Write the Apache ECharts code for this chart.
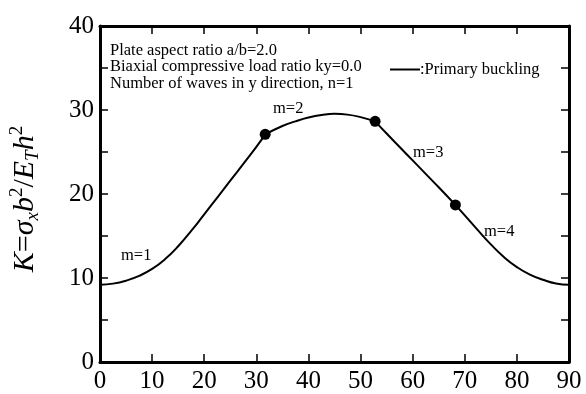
<!DOCTYPE html>
<html>
<head>
<meta charset="utf-8">
<script src="https://cdn.jsdelivr.net/npm/echarts@6/dist/echarts.min.js"></script>
<style>
html,body{margin:0;padding:0;background:#fff;}
#chart{width:586px;height:394px;}
</style>
</head>
<body>
<div id="chart"></div>
<script>
// ---- data ----
const m1Angle = [0, 2.5, 5, 7.5, 10, 12.5, 15, 17.5, 20, 22.5, 25, 27.5, 30, 31.7];
const m1K     = [9.2, 9.33, 9.68, 10.25, 11.08, 12.25, 13.78, 15.6, 17.58, 19.58, 21.58, 23.58, 25.6, 27.1];
const m2Angle = [31.7, 35, 37.5, 40, 42.5, 45, 47.5, 50, 52.8];
const m2K     = [27.1, 28.1, 28.65, 29.1, 29.4, 29.55, 29.45, 29.15, 28.65];
const m3Angle = [52.8, 55, 57.5, 60, 62.5, 65, 68.2];
const m3K     = [28.65, 27.2, 25.6, 24.0, 22.4, 20.8, 18.7];
const m4Angle = [68.2, 70, 72.5, 75, 77.5, 80, 82.5, 85, 87.5, 90];
const m4K     = [18.7, 17.45, 15.7, 14.0, 12.5, 11.3, 10.4, 9.8, 9.35, 9.2];
const dotAngle = [31.7, 52.8, 68.2];
const dotK     = [27.1, 28.65, 18.7];
const xTicks = [0, 10, 20, 30, 40, 50, 60, 70, 80, 90];
const yTicks = [0, 10, 20, 30, 40];
const seriesName = 'Primary buckling';
const infoLines = ['Plate aspect ratio a/b=2.0', 'Biaxial compressive load ratio ky=0.0', 'Number of waves in y direction, n=1'];
const segLabels = ['m=1', 'm=2', 'm=3', 'm=4'];

const FONT = 'Liberation Serif';
const zip = (a, b) => a.map((v, i) => [v, b[i]]);

const chart = echarts.init(document.getElementById('chart'), null, {renderer: 'canvas'});

const lineSeries = [[m1Angle, m1K], [m2Angle, m2K], [m3Angle, m3K], [m4Angle, m4K]].map(([a, k]) => ({
  name: seriesName,
  type: 'line',
  data: zip(a, k),
  smooth: 0.5,
  showSymbol: false,
  symbol: 'none',
  lineStyle: {color: '#000', width: 2},
  itemStyle: {color: '#000'},
  animation: false
}));

const axisCommon = {
  axisLine: {show: true, onZero: false, lineStyle: {color: '#000', width: 3}},
  axisTick: {show: true, inside: true, length: 8, lineStyle: {color: '#000', width: 1.5}},
  splitLine: {show: false}
};

const option = {
  backgroundColor: '#fff',
  animation: false,
  grid: {left: 93, right: 17, top: 26, bottom: 31, containLabel: false},
  legend: {
    data: [{name: seriesName, icon: 'rect'}],
    left: 385, top: 56,
    itemWidth: 30, itemHeight: 2, itemGap: 0,
    formatter: ':{name}',
    textStyle: {fontFamily: FONT, fontSize: 16.5, color: '#000', padding: [0, 0, 0, -5]},
    selectedMode: false
  },
  xAxis: [
    Object.assign({}, axisCommon, {
      type: 'value', min: 0, max: 90, interval: 10, position: 'bottom',
      axisLabel: {show: true, color: '#000', fontFamily: FONT, fontSize: 25, margin: 7,
        formatter: v => xTicks.includes(v) ? String(v) : ''}
    }),
    Object.assign({}, axisCommon, {
      type: 'value', min: 0, max: 90, interval: 10, position: 'top',
      axisLabel: {show: false}
    })
  ],
  yAxis: [
    Object.assign({}, axisCommon, {
      type: 'value', min: 0, max: 40, interval: 5, position: 'left',
      axisLabel: {show: true, color: '#000', fontFamily: FONT, fontSize: 25, margin: 6,
        formatter: v => yTicks.includes(v) ? String(v) : ''},
      name: '{i|K}{n|=}{i|σ}{sub|x}{i|b}{sup|2}{n|/}{i|E}{sub|T}{i|h}{sup|2}',
      nameLocation: 'middle', nameRotate: 90, nameGap: 58,
      nameTextStyle: {
        color: '#000',
        padding: [0, 10, 0, 0],
        rich: {
          i: {fontFamily: FONT, fontStyle: 'italic', fontSize: 30, color: '#000', lineHeight: 34, verticalAlign: 'middle'},
          n: {fontFamily: FONT, fontSize: 30, color: '#000', lineHeight: 34, verticalAlign: 'middle'},
          sub: {fontFamily: FONT, fontStyle: 'italic', fontSize: 19, color: '#000', verticalAlign: 'bottom', lineHeight: 19},
          sup: {fontFamily: FONT, fontSize: 19, color: '#000', verticalAlign: 'top', lineHeight: 19}
        }
      }
    }),
    Object.assign({}, axisCommon, {
      type: 'value', min: 0, max: 40, interval: 5, position: 'right',
      axisLabel: {show: false}
    })
  ],
  graphic: [
    {type: 'text', left: 110, top: 42, silent: true,
     style: {text: infoLines.join('\n'), font: '16.5px "Liberation Serif"', fill: '#000', lineHeight: 16.5}},
    {type: 'text', left: 121, top: 247, silent: true, style: {text: segLabels[0], font: '16.5px "Liberation Serif"', fill: '#000'}},
    {type: 'text', left: 273, top: 100, silent: true, style: {text: segLabels[1], font: '16.5px "Liberation Serif"', fill: '#000'}},
    {type: 'text', left: 413, top: 144, silent: true, style: {text: segLabels[2], font: '16.5px "Liberation Serif"', fill: '#000'}},
    {type: 'text', left: 484, top: 223, silent: true, style: {text: segLabels[3], font: '16.5px "Liberation Serif"', fill: '#000'}}
  ],
  series: lineSeries.concat([{
    name: 'transition',
    type: 'scatter',
    data: zip(dotAngle, dotK),
    symbol: 'circle',
    symbolSize: 11,
    itemStyle: {color: '#000', opacity: 1},
    z: 5
  }])
};
chart.setOption(option);
</script>
</body>
</html>
